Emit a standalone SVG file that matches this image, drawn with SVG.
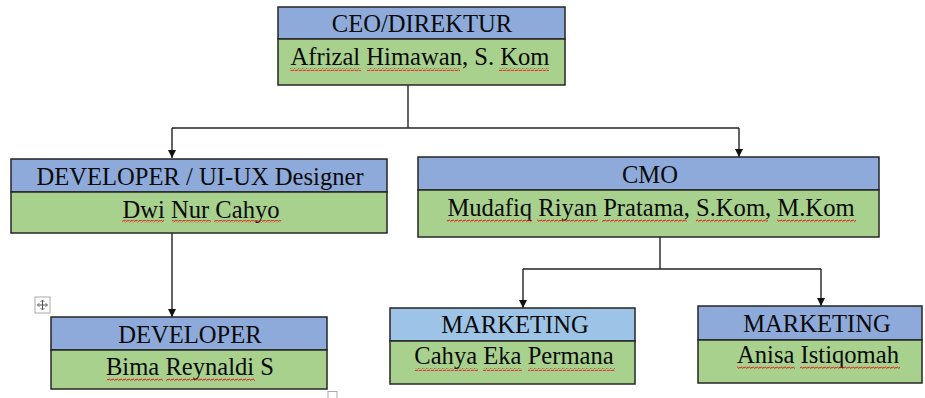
<svg xmlns="http://www.w3.org/2000/svg" width="925" height="398" viewBox="0 0 925 398">
<style>
.hd{fill:#8EAADB;stroke:#262626;stroke-width:1.5}
.hl{fill:#9DC3E6;stroke:#262626;stroke-width:1.5}
.nm{fill:#A9D18E;stroke:#262626;stroke-width:1.5}
.t{font-family:"Liberation Serif","Times New Roman",serif;font-size:24.6px;fill:#0a0a0a;text-anchor:middle}
.ln{fill:none;stroke:#222;stroke-width:1.4}
.sq{fill:url(#squig)}
</style>
<defs>
<marker id="arr" viewBox="0 0 10 10" refX="10" refY="5" markerWidth="8" markerHeight="8" markerUnits="userSpaceOnUse" orient="auto">
<path d="M0,0 L10,5 L0,10 Z" fill="#111"/>
</marker>
<pattern id="squig" x="0" y="0" width="4" height="3" patternUnits="userSpaceOnUse">
<path d="M0,2.5 L1,0.8 L3,2.5 L4,0.8" fill="none" stroke="#E02020" stroke-width="0.9"/>
</pattern>
</defs>
<rect width="925" height="398" fill="#fff"/>

<g id="connectors">
<path class="ln" d="M408,85 V128"/>
<path class="ln" d="M172,128 H739"/>
<path class="ln" d="M172,128 V158" marker-end="url(#arr)"/>
<path class="ln" d="M739,128 V157" marker-end="url(#arr)"/>
<path class="ln" d="M172,233 V317" marker-end="url(#arr)"/>
<path class="ln" d="M660,237 V269"/>
<path class="ln" d="M523,269 H821"/>
<path class="ln" d="M523,269 V308" marker-end="url(#arr)"/>
<path class="ln" d="M821,269 V306" marker-end="url(#arr)"/>
</g>

<g id="ceo">
<rect class="hd" x="278" y="7" width="287" height="32"/>
<rect class="nm" x="278" y="39" width="287" height="46"/>
<text class="t" x="422" y="32">CEO/DIREKTUR</text>
<text class="t" x="420" y="65">Afrizal Himawan, S. Kom</text>
<rect class="sq" x="290" y="68" width="71" height="3"/>
<rect class="sq" x="367" y="68" width="93" height="3"/>
<rect class="sq" x="499" y="68" width="50" height="3"/>
</g>

<g id="developer-uiux">
<rect class="hd" x="11" y="159" width="376" height="33"/>
<rect class="nm" x="11" y="192" width="376" height="41"/>
<text class="t" x="200" y="185">DEVELOPER / UI-UX Designer</text>
<text class="t" x="201" y="218">Dwi Nur Cahyo</text>
<rect class="sq" x="122" y="220" width="42" height="3"/>
<rect class="sq" x="172" y="220" width="39" height="3"/>
<rect class="sq" x="214" y="220" width="67" height="3"/>
</g>

<g id="developer">
<rect class="hd" x="51" y="317" width="276" height="33"/>
<rect class="nm" x="51" y="350" width="276" height="39"/>
<text class="t" x="190" y="343">DEVELOPER</text>
<text class="t" x="190" y="375">Bima Reynaldi S</text>
<rect class="sq" x="107" y="378" width="56" height="3"/>
<rect class="sq" x="166" y="378" width="89" height="3"/>
</g>

<g id="cmo">
<rect class="hd" x="418" y="157" width="461" height="33"/>
<rect class="nm" x="418" y="190" width="461" height="47"/>
<text class="t" x="650" y="183">CMO</text>
<text class="t" x="651" y="216">Mudafiq Riyan Pratama, S.Kom, M.Kom</text>
<rect class="sq" x="447" y="219" width="85" height="3"/>
<rect class="sq" x="537" y="219" width="61" height="3"/>
<rect class="sq" x="602" y="219" width="85" height="3"/>
<rect class="sq" x="696" y="219" width="72" height="3"/>
<rect class="sq" x="777" y="219" width="79" height="3"/>
</g>

<g id="marketing-1">
<rect class="hl" x="390" y="308" width="245" height="33"/>
<rect class="nm" x="390" y="341" width="245" height="43"/>
<text class="t" x="515" y="333">MARKETING</text>
<text class="t" x="514" y="364">Cahya Eka Permana</text>
<rect class="sq" x="415" y="368" width="63" height="3"/>
<rect class="sq" x="483" y="368" width="39" height="3"/>
<rect class="sq" x="528" y="368" width="87" height="3"/>
</g>

<g id="marketing-2">
<rect class="hd" x="698" y="306" width="224" height="34"/>
<rect class="nm" x="698" y="340" width="224" height="43"/>
<text class="t" x="817" y="332">MARKETING</text>
<text class="t" x="818" y="363">Anisa Istiqomah</text>
<rect class="sq" x="737" y="366" width="58" height="3"/>
<rect class="sq" x="800" y="366" width="100" height="3"/>
</g>

<g id="table-handles">
<rect x="35" y="297" width="15" height="16" fill="#fff" stroke="#aaa" stroke-width="1"/>
<path d="M42.5,300 V310 M37.5,305 H47.5" stroke="#555" stroke-width="1" fill="none"/>
<path d="M40.5,302 L42.5,300 L44.5,302 M40.5,308 L42.5,310 L44.5,308 M39.5,303 L37.5,305 L39.5,307 M45.5,303 L47.5,305 L45.5,307" stroke="#555" stroke-width="0.8" fill="none"/>
<rect x="328" y="391.5" width="9" height="8" fill="#fff" stroke="#aaa" stroke-width="1"/>
</g>
</svg>
